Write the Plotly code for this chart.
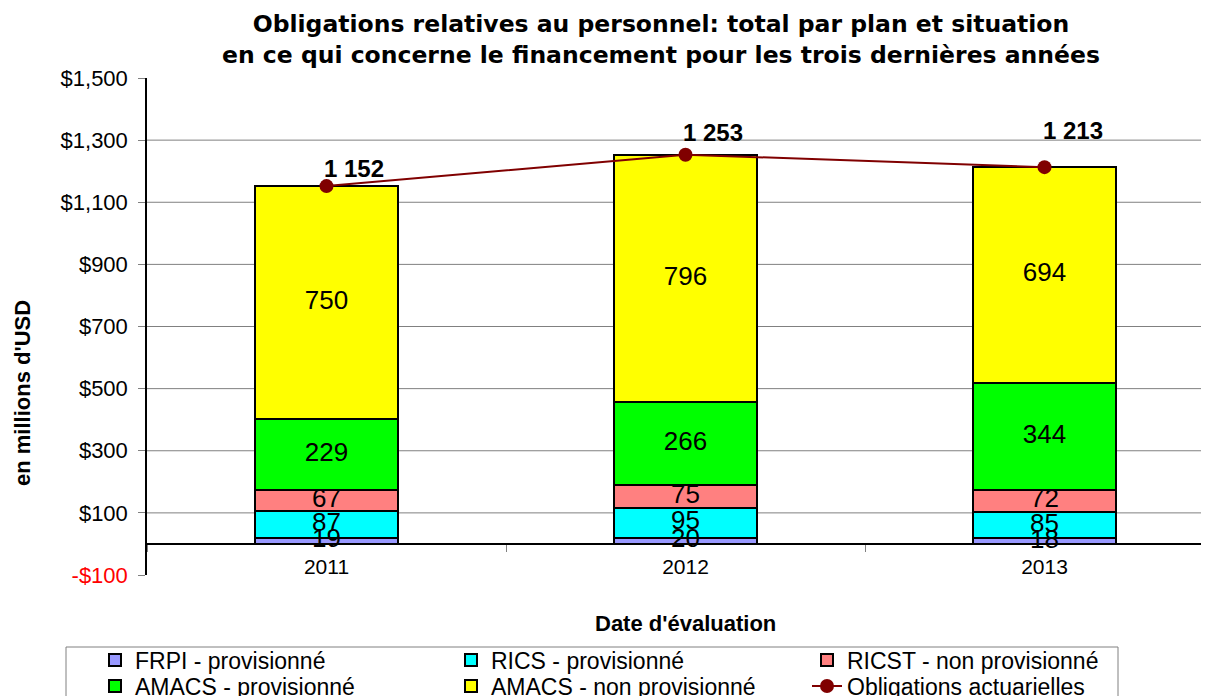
import numpy as np
import plotly.graph_objects as go

years = ["2011", "2012", "2013"]
frpi = [19, 20, 18]
rics = [87, 95, 85]
ricst = [67, 75, 72]
amacs_prov = [229, 266, 344]
amacs_nonprov = [750, 796, 694]
obligations = [1152, 1253, 1213]

series_names = ["FRPI - provisionné", "RICS - provisionné", "RICST - non provisionné",
                "AMACS - provisionné", "AMACS - non provisionné"]
series_colors = ["#9999FF", "#00FFFF", "#FF8080", "#00FF00", "#FFFF00"]
series_legend = ["legend", "legend", "legend", "legend2", "legend2"]
line_name = "Obligations actuarielles"
line_color = "#800000"

y_tickvals = [-100, 100, 300, 500, 700, 900, 1100, 1300, 1500]
y_ticktext = ['<span style="color:#FF0000">-$100</span>', "$100", "$300", "$500", "$700",
              "$900", "$1,100", "$1,300", "$1,500"]
grid_vals = [100, 300, 500, 700, 900, 1100, 1300]

title_text = ("Obligations relatives au personnel: total par plan et situation<br>"
              "en ce qui concerne le financement pour les trois dernières années")

# page body has an 8px margin; target screen pixels are converted to paper pixels
OFF = 8
L, T, B, PW = 147 - OFF, 78 - OFF, 575 - OFF, 1062
PH = B - T
def px(x):
    return (x - OFF - L) / PW
def py(y):
    return (B - (y - OFF)) / PH

series = [frpi, rics, ricst, amacs_prov, amacs_nonprov]
idx = list(range(len(years)))

fig = go.Figure()
for name, vals, col, lg in zip(series_names, series, series_colors, series_legend):
    fig.add_trace(go.Bar(x=years, y=vals, name=name, width=0.4, legend=lg,
                         marker=dict(color=col, line=dict(color="black", width=2))))

# segment labels at segment midpoints
arr = np.array(series, dtype=float)
cum = np.cumsum(arr, axis=0)
mids = cum - arr / 2.0
for i in range(arr.shape[0]):
    fig.add_trace(go.Scatter(x=years, y=mids[i], mode="text",
                             text=[str(int(v)) for v in arr[i]],
                             textfont=dict(family="Liberation Sans, Arial", size=26, color="black"),
                             showlegend=False, hoverinfo="skip"))

fig.add_trace(go.Scatter(x=years, y=obligations, name=line_name, mode="lines+markers",
                         legend="legend2",
                         line=dict(color=line_color, width=2),
                         marker=dict(color=line_color, size=14)))

label_shifts = [(27, 18), (27, 22), (28, 37)]
for i, v, (dx, dy) in zip(idx, obligations, label_shifts):
    fig.add_annotation(x=i, y=v, xref="x", yref="y",
                       text="{:,}".format(v).replace(",", " "), showarrow=False,
                       xshift=dx, yshift=dy,
                       font=dict(family="Liberation Sans, Arial", size=24, color="black", weight="bold"))

for g in grid_vals:
    fig.add_shape(type="line", xref="paper", x0=0, x1=1, yref="y", y0=g, y1=g,
                  line=dict(color="#808080", width=1), layer="below")

# legend frame
fig.add_shape(type="rect", xref="paper", yref="paper", x0=px(66), x1=px(1118),
              y0=py(647), y1=py(720), line=dict(color="#808080", width=1),
              fillcolor="rgba(0,0,0,0)", layer="above")

fig.add_annotation(text=title_text, xref="paper", yref="paper", x=px(661), y=py(8),
                   xanchor="center", yanchor="top", showarrow=False, align="center",
                   font=dict(family="DejaVu Sans", size=23.5, color="black", weight="bold"))
fig.add_annotation(text="en millions d'USD", textangle=-90, xref="paper", yref="paper",
                   x=px(22), y=py(393), xanchor="center", yanchor="middle", showarrow=False,
                   font=dict(family="Liberation Sans, Arial", size=22, color="black", weight="bold"))
fig.add_annotation(text="Date d'évaluation", xref="paper", yref="paper",
                   x=px(685), y=py(623), xanchor="center", yanchor="middle", showarrow=False,
                   font=dict(family="Liberation Sans, Arial", size=22, color="black", weight="bold"))

legend_common = dict(orientation="h", xanchor="left", yanchor="middle", traceorder="normal",
                     entrywidth=311, entrywidthmode="pixels", borderwidth=0,
                     bgcolor="rgba(0,0,0,0)",
                     font=dict(family="Liberation Sans, Arial", size=23, color="black"))

fig.update_layout(
    width=1209, height=696,
    margin=dict(l=L, r=1209 - L - PW, t=T, b=696 - B, autoexpand=False),
    paper_bgcolor="white", plot_bgcolor="white",
    barmode="stack",
    font=dict(family="Liberation Sans, Arial", color="black"),
    xaxis=dict(type="category", range=[-0.5, -0.5 + PW / 359], anchor="free",
               position=100 / 1600, showline=True, linecolor="black", linewidth=1.5,
               ticks="outside", tickson="boundaries", ticklen=7, tickcolor="#808080",
               tickfont=dict(size=21, color="black"), showgrid=False, ticklabelstandoff=4),
    yaxis=dict(range=[-100, 1500], tickvals=y_tickvals, ticktext=y_ticktext,
               showline=True, linecolor="black", linewidth=1.5, ticks="outside",
               ticklen=7, tickcolor="#808080", showgrid=False, zeroline=False,
               tickfont=dict(size=22, color="black"), ticklabelstandoff=6),
    legend=dict(x=px(95), y=py(660), **legend_common),
    legend2=dict(x=px(95), y=py(686), **legend_common),
    showlegend=True,
)

fig.write_html("out.html")
